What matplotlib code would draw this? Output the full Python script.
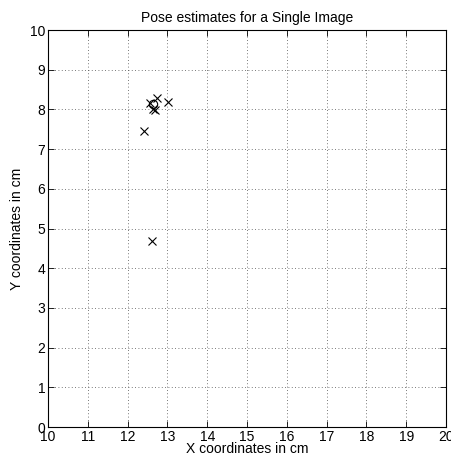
import matplotlib
matplotlib.use('Agg')
import matplotlib.pyplot as plt

plt.rcParams['font.family'] = ['Liberation Sans', 'DejaVu Sans']

# pose estimates (cm)
est_x = [12.73, 12.56, 12.65, 12.70, 13.02, 12.41, 12.62]
est_y = [8.30, 8.15, 8.00, 7.98, 8.19, 7.46, 4.69]
# mean / reference pose
ref_x = [12.65]
ref_y = [8.14]

fig = plt.figure(figsize=(4.51, 4.59), dpi=100)
ax = fig.add_axes([0.1064, 0.0697, 0.8826, 0.8649])

ax.plot(est_x, est_y, 'kx', markersize=6, markeredgewidth=0.8)
ax.plot(ref_x, ref_y, 'ko', markersize=6, markerfacecolor='none', markeredgewidth=0.8)

ax.set_xlim(10, 20)
ax.set_ylim(0, 10)
ax.set_xticks(range(10, 21))
ax.set_yticks(range(0, 11))
ax.tick_params(direction='in', length=4, width=0.6, labelsize=10,
               top=True, right=True)
ax.tick_params(axis='x', pad=2)
ax.tick_params(axis='y', pad=2)
ax.grid(True, linestyle=(0, (1, 3)), color='0.3', linewidth=0.6)
for s in ax.spines.values():
    s.set_linewidth(0.8)

ax.set_title('Pose estimates for a Single Image', fontsize=10, pad=6)
ax.set_xlabel('X coordinates in cm', fontsize=10, labelpad=-1)
ax.set_ylabel('Y coordinates in cm', fontsize=10, labelpad=4)

fig.savefig('out.png', dpi=100)
